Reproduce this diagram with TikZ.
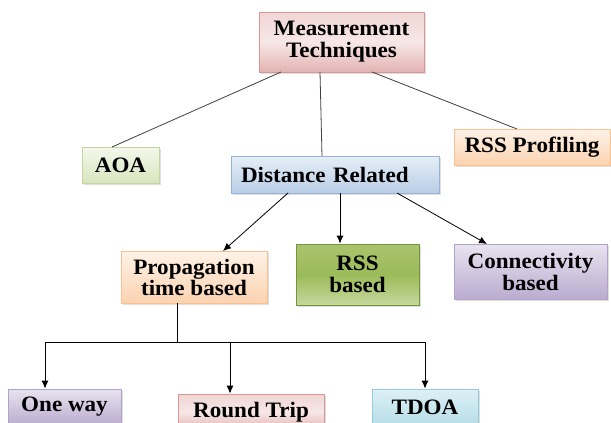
\documentclass[tikz,border=0pt]{standalone}
\usepackage{fontspec}
\setmainfont{Liberation Serif}[BoldFont={Liberation Serif Bold}, BoldFeatures={FakeStretch=1.05}]
\usetikzlibrary{arrows.meta,shadows}
\definecolor{pkT}{HTML}{F0D6D5}
\definecolor{pkM}{HTML}{F7E7E7}
\definecolor{pkB}{HTML}{E3B3B2}
\definecolor{pkD}{HTML}{D99694}
\definecolor{gnT}{HTML}{F4F8EC}
\definecolor{gnB}{HTML}{D8E5BE}
\definecolor{gnD}{HTML}{C3D69B}
\definecolor{blT}{HTML}{E6EEF7}
\definecolor{blB}{HTML}{BACEE6}
\definecolor{blD}{HTML}{95B3D7}
\definecolor{peT}{HTML}{FEF2E8}
\definecolor{peB}{HTML}{FBD3B0}
\definecolor{peD}{HTML}{FAC090}
\definecolor{rgT}{HTML}{A9C46E}
\definecolor{rgM}{HTML}{9BBB59}
\definecolor{rgB}{HTML}{C5D89E}
\definecolor{rgD}{HTML}{77933C}
\definecolor{puT}{HTML}{E8E3EF}
\definecolor{puB}{HTML}{BBACCF}
\definecolor{puD}{HTML}{B3A2C7}
\definecolor{cyT}{HTML}{DDF0F5}
\definecolor{cyB}{HTML}{B7DEE8}
\definecolor{cyD}{HTML}{93CDDD}
\tikzset{
  box/.style={rectangle, inner sep=0pt, align=center, line width=0.8pt,
    font=\bfseries\fontsize{22}{22}\selectfont,
    drop shadow={shadow xshift=2pt, shadow yshift=-2pt, opacity=0.25, fill=gray}},
  pinkbox/.style={box, draw=pkD, top color=pkT, bottom color=pkB, middle color=pkM},
  greenbox/.style={box, draw=gnD, top color=gnT, bottom color=gnB},
  bluebox/.style={box, draw=blD, top color=blT, bottom color=blB},
  peachbox/.style={box, draw=peD, top color=peT, bottom color=peB},
  rssbox/.style={box, draw=rgD, top color=rgT, bottom color=rgB, middle color=rgM},
  purplebox/.style={box, draw=puD, top color=puT, bottom color=puB},
  cyanbox/.style={box, draw=cyD, top color=cyT, bottom color=cyB},
  link/.style={draw=black!75, line width=0.8pt},
  arr/.style={draw=black, line width=0.8pt, -{Latex[length=8pt,width=7pt]}}
}
\begin{document}
\begin{tikzpicture}[x=1pt,y=-1pt]
\useasboundingbox[fill=white] (0,0) rectangle (611,423);
\node[pinkbox, minimum width=165pt, minimum height=60pt] (mt) at (341.5,42) {Measurement\\Techniques};
\node[greenbox, minimum width=77pt, minimum height=36pt] (aoa) at (120.5,165) {AOA};
\node[bluebox, minimum width=208pt, minimum height=37pt, text width=188pt, inner xsep=10pt, align=left] (dr) at (335,174.5) {Distance Related};
\node[peachbox, minimum width=156pt, minimum height=36pt] (rssp) at (532,147) {RSS Profiling};
\node[peachbox, minimum width=146pt, minimum height=52pt, font=\bfseries\fontsize{22}{21}\selectfont] (prop) at (194,277) {Propagation\\time based};
\node[rssbox, minimum width=123pt, minimum height=61pt] (rssb) at (357.5,274.5) {RSS\\based};
\node[purplebox, minimum width=153pt, minimum height=55pt] (conn) at (530.5,271.5) {Connectivity\\based};
\node[purplebox, minimum width=113pt, minimum height=36pt] (ow) at (64.5,407) {One way};
\node[pinkbox, minimum width=146pt, minimum height=36pt] (rt) at (251,412) {Round Trip};
\node[cyanbox, minimum width=106pt, minimum height=36pt] (tdoa) at (425,407) {TDOA};
% links from Measurement Techniques
\coordinate (mt1) at (281,72);
\coordinate (mt2) at (320,72);
\coordinate (mt3) at (372,72);
\coordinate (aoaT) at (112,147);
\coordinate (drT) at (322,156);
\coordinate (rsspT) at (517,129);
\draw[link] (mt1) -- (aoaT);
\draw[link] (mt2) -- (drT);
\draw[link] (mt3) -- (rsspT);
% arrows from Distance Related
\coordinate (dr1) at (288,193);
\coordinate (dr2) at (340,193);
\coordinate (dr3) at (397,193);
\coordinate (propT) at (223,251);
\coordinate (connT) at (487,244);
\draw[arr] (dr1) -- (propT);
\draw[arr] (dr2) -- (dr2 |- rssb.north);
\draw[arr] (dr3) -- (connT);
% elbow from Propagation
\coordinate (pb) at (177,303);
\coordinate (j) at (177,342);
\coordinate (hl) at (45,342);
\coordinate (hm) at (230,342);
\coordinate (hr) at (425,342);
\draw[link, draw=black] (pb) -- (j);
\draw[link, draw=black] (hl) -- (hr);
\draw[arr] (hl) -- (hl |- ow.north);
\draw[arr] (hm) -- (hm |- rt.north);
\draw[arr] (hr) -- (hr |- tdoa.north);
\end{tikzpicture}
\end{document}
